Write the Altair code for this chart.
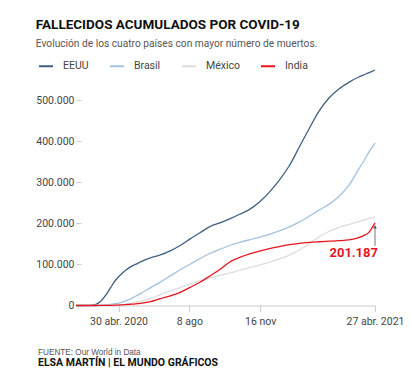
import altair as alt
import pandas as pd

dates = ["2020-03-01", "2020-03-15", "2020-03-22", "2020-03-29", "2020-04-05", "2020-04-12",
         "2020-04-19", "2020-04-26", "2020-05-03", "2020-05-10", "2020-05-17", "2020-05-24",
         "2020-05-31", "2020-06-14", "2020-06-28", "2020-07-12", "2020-07-26", "2020-08-09",
         "2020-08-23", "2020-09-06", "2020-09-20", "2020-10-04", "2020-10-18", "2020-11-01",
         "2020-11-15", "2020-11-29", "2020-12-13", "2020-12-27", "2021-01-10", "2021-01-24",
         "2021-02-07", "2021-02-21", "2021-03-07", "2021-03-21", "2021-04-04", "2021-04-11",
         "2021-04-18", "2021-04-22", "2021-04-27"]

eeuu = [0, 70, 450, 2700, 10500, 25000, 44000, 62000, 75000, 86000, 94000, 100000,
        106000, 116000, 123000, 133000, 146000, 162000, 177000, 192000, 201000, 211000,
        222000, 234000, 252000, 276000, 305000, 340000, 385000, 430000, 473000, 505000,
        527000, 543000, 556000, 561000, 566000, 569000, 573000]

brasil = [0, 0, 20, 140, 550, 1300, 2500, 4300, 7000, 11000, 16000, 22500,
          29000, 43000, 57000, 72000, 87000, 100500, 114000, 126500, 136500, 146000,
          153500, 160000, 166000, 173000, 181500, 191500, 203000, 217000, 232000, 246000,
          265000, 292000, 332000, 351000, 372000, 383000, 395000]

mexico = [0, 0, 5, 20, 125, 330, 700, 1350, 2300, 3500, 5200, 7400,
          9800, 16900, 26600, 35500, 43400, 52000, 60500, 67500, 73500, 79000,
          86000, 92000, 98300, 105500, 113700, 122400, 135000, 150300, 167000, 180000,
          190000, 197000, 204000, 208000, 211500, 213000, 215000]

india = [0, 2, 7, 27, 110, 320, 520, 830, 1370, 2100, 3000, 4000,
         5400, 9200, 16500, 23200, 32000, 44000, 56700, 71600, 87500, 106000,
         117000, 125500, 132500, 138500, 143500, 147900, 151200, 153500, 155100, 156400,
         157700, 159600, 165100, 170200, 177200, 186900, 201187]

countries = ["EEUU", "Brasil", "México", "India"]
colors = ["#3f5f82", "#a3c2e0", "#dcdcdc", "#e5141f"]

tick_dates = ["2020-04-30", "2020-08-08", "2020-11-16", "2021-04-27"]
tick_labels = ["30 abr. 2020", "8 ago", "16 nov", "27 abr. 2021"]
y_ticks = [0, 100000, 200000, 300000, 400000, 500000]

title = "FALLECIDOS ACUMULADOS POR COVID-19"
subtitle = "Evolución de los cuatro países con mayor número de muertos."
source = "FUENTE: Our World in Data"
credit = "ELSA MARTÍN | EL MUNDO GRÁFICOS"

rows = []
for name, series in zip(countries, [eeuu, brasil, mexico, india]):
    for d, v in zip(dates, series):
        rows.append({"fecha": d, "pais": name, "muertes": v})
df = pd.DataFrame(rows)

ann = pd.DataFrame({"fecha": [dates[-1]], "muertes": [india[-1]]})

label_expr = " : ".join(
    [f"utcFormat(datum.value, '%Y-%m-%d') == '{d}' ? '{l}'" for d, l in zip(tick_dates, tick_labels)]
) + " : ''"

tick_vals = [alt.DateTime(year=int(d[:4]), month=int(d[5:7]), date=int(d[8:]), utc=True) for d in tick_dates]

x_enc = alt.X(
    "fecha:T",
    scale=alt.Scale(type="utc", domain=[alt.DateTime(year=2020, month=3, date=1, utc=True),
                                        alt.DateTime(year=2021, month=4, date=27, utc=True)]),
    axis=alt.Axis(values=tick_vals, labelExpr=label_expr, title=None, grid=False,
                  domainColor="#cccccc", tickColor="#cccccc", tickSize=6,
                  labelFont="Roboto", labelFontSize=10.5, labelColor="#444444",
                  labelPadding=5, labelFlush=False),
)
y_enc = alt.Y(
    "muertes:Q",
    scale=alt.Scale(domain=[0, 573000], nice=False),
    axis=alt.Axis(values=y_ticks, labelExpr="replace(datum.label, ',', '.')", title=None,
                  grid=False, domain=False, tickColor="#cccccc", tickSize=5, offset=-5,
                  labelFont="Roboto", labelFontSize=10.5, labelColor="#444444", labelPadding=2),
)

lines = alt.Chart(df).mark_line(strokeWidth=1.3, interpolate="monotone").encode(
    x=x_enc,
    y=y_enc,
    color=alt.Color(
        "pais:N",
        scale=alt.Scale(domain=countries, range=colors),
        sort=countries,
        legend=alt.Legend(orient="none", legendX=-38, legendY=-12, direction="horizontal",
                          title=None, symbolType="stroke", symbolSize=196, symbolStrokeWidth=2,
                          labelFont="Roboto", labelFontSize=10.5, labelColor="#444444",
                          labelOffset=9, columnPadding=17, gridAlign="each"),
    ),
    order=alt.Order("fecha:T"),
)

base_ann = alt.Chart(ann)
arrow_line = base_ann.mark_rule(color="#777777", strokeWidth=1, yOffset=3, y2Offset=23).encode(
    x="fecha:T", y="muertes:Q", y2="muertes:Q"
)
arrow_head = base_ann.mark_point(shape="triangle-up", filled=True, size=14, color="#555555",
                                 opacity=1, yOffset=4).encode(x="fecha:T", y="muertes:Q")
ann_text = base_ann.transform_calculate(
    lbl="replace(format(datum.muertes, ','), ',', '.')"
).mark_text(align="right", baseline="alphabetic", dx=3, dy=34, fontSize=13,
            fontWeight="bold", font="Roboto", color="#e5141f").encode(
    x="fecha:T", y="muertes:Q", text="lbl:N"
)

foot1 = alt.Chart(pd.DataFrame({"t": [source]})).mark_text(
    align="left", baseline="middle", font="Liberation Sans", fontSize=8.2, color="#555555"
).encode(x=alt.value(-38), y=alt.value(283), text="t:N")
foot2 = alt.Chart(pd.DataFrame({"t": [credit]})).mark_text(
    align="left", baseline="middle", font="Roboto", fontSize=10.5, fontWeight="bold", color="#111111"
).encode(x=alt.value(-38), y=alt.value(292.5), text="t:N")

chart = alt.layer(lines, arrow_line, arrow_head, ann_text, foot1, foot2).properties(
    width=299,
    height=235.5,
    autosize=alt.AutoSizeParams(type="none"),
    padding={"left": 76, "top": 70, "right": 37, "bottom": 71.5},
    title=alt.TitleParams(
        text=title, subtitle=subtitle, anchor="start", offset=9,
        font="Roboto", fontSize=13.5, fontWeight="bold", color="#111111",
        subtitleFont="Roboto", subtitleFontSize=10.2, subtitleColor="#555555",
        subtitlePadding=7,
    ),
).configure_view(stroke=None)

chart.save("out.html", embed_options={"renderer": "svg", "actions": False})
